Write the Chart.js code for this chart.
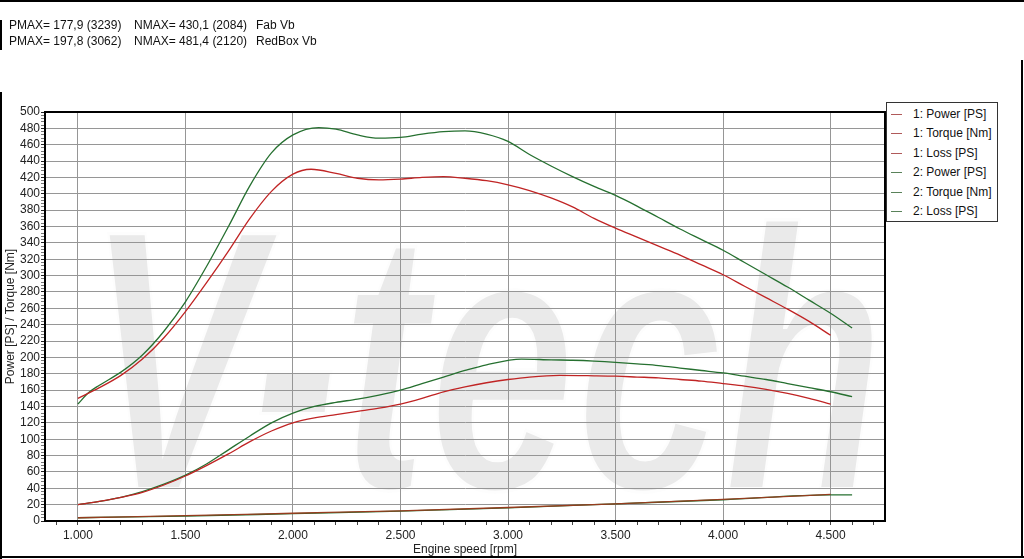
<!DOCTYPE html>
<html><head><meta charset="utf-8">
<script src="https://cdn.jsdelivr.net/npm/chart.js@4"></script>
<style>
html,body{margin:0;padding:0;background:#fff;}
#wrap{position:relative;width:1024px;height:559px;overflow:hidden;font-family:"Liberation Sans",Arial,sans-serif;background:#fff;}
#c{position:absolute;left:0;top:0;}
.hdr{position:absolute;font-size:12px;color:#111;line-height:14px;white-space:pre;}
#legend{position:absolute;left:886px;top:102px;width:112px;height:120px;border:1px solid #333;background:#fff;box-sizing:border-box;}
.li{position:absolute;left:0;height:14px;font-size:12px;line-height:14px;color:#111;white-space:pre;}
.li i{position:absolute;left:4px;top:7px;width:11px;height:1px;}
.li span{position:absolute;left:26px;top:0;}
</style></head>
<body><div id="wrap"><canvas id="c" width="1024" height="559"></canvas><div id="hdr"></div><div id="legend"></div></div>
<script>
// ---- header values ----
const runNames = ['Fab Vb', 'RedBox Vb'];
const pmaxVals = ['177,9', '197,8'];
const pmaxRpm = [3239, 3062];
const nmaxVals = ['430,1', '481,4'];
const nmaxRpm = [2084, 2120];

// ---- series data (rpm / value) ----
const rpmTorque1 = [1000,1100,1200,1300,1400,1500,1600,1700,1800,1900,2000,2084,2200,2300,2400,2500,2600,2700,2800,2900,3000,3100,3200,3300,3400,3500,3600,3700,3800,3900,4000,4100,4200,4300,4400,4500];
const torque1 =    [150, 163, 178, 198, 224, 256, 292, 330, 370, 403, 424, 430, 425, 419, 417, 418, 420, 421, 419, 416, 411, 404, 395, 384, 370, 358, 347, 336, 325, 313, 301, 287, 273, 259, 244, 227];

const rpmTorque2 = [1000,1050,1100,1200,1300,1400,1500,1600,1700,1800,1900,2000,2120,2200,2300,2400,2500,2600,2700,2800,2900,3000,3100,3200,3300,3400,3500,3600,3700,3800,3900,4000,4100,4200,4300,4400,4500,4600];
const torque2 =    [143, 157, 166, 182, 203, 232, 268, 312, 360, 410, 450, 472, 481, 479, 472, 468, 469, 473, 476, 477, 473, 464, 448, 434, 421, 409, 398, 385, 371, 357, 344, 331, 316, 301, 286, 270, 254, 236];

const rpmPower1 = [1000,1100,1200,1300,1400,1500,1600,1700,1800,1900,2000,2100,2200,2300,2400,2500,2600,2700,2800,2900,3000,3100,3239,3400,3500,3600,3700,3800,3900,4000,4100,4200,4300,4400,4500];
const power1 =    [20,  24,  29,  35,  44,  55,  68,  82,  97,  110, 120, 126, 130, 134, 138, 143, 150, 158, 164, 169, 173, 176, 178, 177.5,177,176, 175, 173, 171, 168, 165, 161, 156, 150, 143];

const rpmPower2 = [1000,1100,1200,1300,1400,1500,1600,1700,1800,1900,2000,2100,2200,2300,2400,2500,2600,2700,2800,2900,3062,3200,3300,3400,3500,3600,3700,3800,3900,4000,4100,4200,4300,4400,4500,4600];
const power2 =    [20,  24,  29,  36,  45,  56,  70,  87,  104, 120, 132, 140, 145, 149, 154, 160, 168, 176, 184, 191, 198, 197, 196.5,195.5,194,192, 190, 187, 184, 181, 177, 173, 168, 163, 158, 152];

const rpmLoss1 = [1000,1500,2000,2500,3000,3500,4000,4500];
const loss1 =    [4,   6.5, 9.5, 12.5,16.5,21,  26.5,32.5];
const rpmLoss2 = [1000,1500,2000,2500,3000,3500,4000,4500,4600];
const loss2 =    [4,   6,   9,   12,  16,  21,  26,  32,  32];

const legendLabels = ['1: Power [PS]','1: Torque [Nm]','1: Loss [PS]','2: Power [PS]','2: Torque [Nm]','2: Loss [PS]'];
const xFirstTick = 900, xLastTick = 4700, xTickStep = 100, xLabelStep = 500;
const yTickStep = 4, yLabelStep = 20;

const RED = 'rgb(192,36,36)', GREEN = 'rgb(38,112,48)';
const RED_L = 'rgb(176,90,90)', GREEN_L = 'rgb(90,130,90)';

function pts(xs, ys){ return xs.map((x,i)=>({x:x, y:ys[i]})); }
function fmtRpm(v){ const s = String(Math.round(v)); return s.length>3 ? s.slice(0,-3)+'.'+s.slice(-3) : s; }
function isMajor(v, step){ return Math.abs(Math.round(v/step)*step - v) < 1e-6; }

// header
const hdr = document.getElementById('hdr');
for (let i=0;i<runNames.length;i++){
  const y = 18 + i*16;
  const mk=(x,t)=>{const d=document.createElement('div');d.className='hdr';d.style.left=x+'px';d.style.top=y+'px';d.textContent=t;hdr.appendChild(d);};
  mk(9, 'PMAX= '+pmaxVals[i]+' ('+pmaxRpm[i]+')');
  mk(134, 'NMAX= '+nmaxVals[i]+' ('+nmaxRpm[i]+')');
  mk(256, runNames[i]);
}

const series = [
  {label:legendLabels[0], data:pts(rpmPower1,power1), color:RED, lcol:RED_L},
  {label:legendLabels[1], data:pts(rpmTorque1,torque1), color:RED, lcol:RED_L},
  {label:legendLabels[2], data:pts(rpmLoss1,loss1), color:'rgb(150,60,30)', lcol:RED_L},
  {label:legendLabels[3], data:pts(rpmPower2,power2), color:GREEN, lcol:GREEN_L},
  {label:legendLabels[4], data:pts(rpmTorque2,torque2), color:GREEN, lcol:GREEN_L},
  {label:legendLabels[5], data:pts(rpmLoss2,loss2), color:GREEN, lcol:GREEN_L},
];

// legend
const lg = document.getElementById('legend');
series.forEach((s,i)=>{
  const d=document.createElement('div'); d.className='li'; d.style.top=(4+i*19.4)+'px';
  const ln=document.createElement('i'); ln.style.background=s.lcol; d.appendChild(ln);
  const t=document.createElement('span'); t.textContent=s.label; d.appendChild(t);
  lg.appendChild(d);
});

const watermark = {
  id:'watermark',
  beforeDraw(chart){
    const {ctx, chartArea:a} = chart;
    ctx.save();
    ctx.beginPath(); ctx.rect(a.left,a.top,a.right-a.left,a.bottom-a.top); ctx.clip();
    ctx.font = 'italic bold 300px "Liberation Sans", Arial, sans-serif';
    const w = ctx.measureText('V-tech').width;
    ctx.translate(85, 490);
    ctx.scale(800/w, 1.25);
    ctx.fillStyle = 'rgb(234,234,234)';
    ctx.fillText('V-tech', 0, 0);
    ctx.lineWidth = 5; ctx.strokeStyle = 'rgba(255,255,255,0.9)';
    ctx.strokeText('V-tech', 0, 0);
    ctx.restore();
  }
};
const frame = {
  id:'frame',
  afterDraw(chart){
    const {ctx, chartArea:a} = chart;
    ctx.save();
    ctx.strokeStyle='#000'; ctx.lineWidth=2;
    ctx.strokeRect(a.left, a.top, a.right-a.left, a.bottom-a.top);
    ctx.beginPath();
    ctx.moveTo(0,1); ctx.lineTo(1024,1);
    ctx.moveTo(1,20); ctx.lineTo(1,50);
    ctx.moveTo(1,92); ctx.lineTo(1,559);
    ctx.moveTo(1022,60); ctx.lineTo(1022,557);
    ctx.moveTo(0,557); ctx.lineTo(1024,557);
    ctx.stroke();
    ctx.restore();
  }
};

Chart.defaults.font.family = '"Liberation Sans", Arial, sans-serif';
Chart.defaults.font.size = 12;
Chart.defaults.color = '#222';

new Chart(document.getElementById('c'), {
  type:'line',
  data:{datasets: series.map(s=>({label:s.label, data:s.data, borderColor:s.color, backgroundColor:s.color,
      borderWidth:1.3, pointRadius:0, fill:false, cubicInterpolationMode:'monotone'}))},
  options:{
    responsive:false, animation:false, devicePixelRatio:1,
    layout:{padding:{left:0, top:112, right:139, bottom:0}},
    plugins:{legend:{display:false}, tooltip:{enabled:false}},
    scales:{
      x:{type:'linear', min:847, max:4753,
        afterFit(s){ s.height = 38; },
        afterBuildTicks(s){
          const t=[]; for(let v=xFirstTick; v<=xLastTick; v+=xTickStep) t.push({value:v});
          s.ticks = t;
        },
        border:{display:true, color:'#000', width:2},
        grid:{color:c=> (c.tick && isMajor(c.tick.value, xLabelStep)) ? 'rgb(150,150,150)' : 'rgba(0,0,0,0)',
              tickColor:'#444', tickLength:4, lineWidth:1},
        ticks:{autoSkip:false, maxRotation:0, padding:3,
               callback:v=> isMajor(v, xLabelStep) ? fmtRpm(v) : ''},
        title:{display:true, text:'Engine speed [rpm]', padding:{top:0,bottom:2}, color:'#222'}
      },
      y:{type:'linear', min:0, max:500,
        afterFit(s){ s.width = 45; },
        border:{display:true, color:'#000', width:2},
        grid:{color:c=> (c.tick && isMajor(c.tick.value, yLabelStep)) ? 'rgb(150,150,150)' : 'rgba(0,0,0,0)',
              tickColor:c=> (c.tick && isMajor(c.tick.value, yLabelStep)) ? '#222' : '#777', tickLength:4, lineWidth:1},
        ticks:{stepSize:yTickStep, autoSkip:false, maxTicksLimit:1000, includeBounds:false, padding:1,
               callback:v=> isMajor(v, yLabelStep) ? String(v) : ''},
        title:{display:true, text:'Power [PS] / Torque [Nm]', padding:{top:3,bottom:0}, color:'#222'}
      }
    }
  },
  plugins:[watermark, frame]
});
</script></body></html>
